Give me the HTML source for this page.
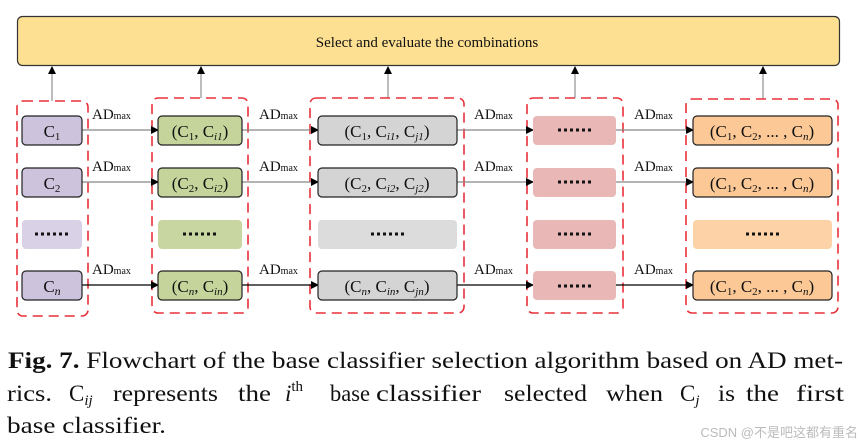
<!DOCTYPE html>
<html><head><meta charset="utf-8"><style>
html,body{margin:0;padding:0;background:#fff;}
svg{display:block;}
.t{font-family:"Liberation Serif",serif;fill:#111;}
</style></head><body>
<svg width="864" height="447" viewBox="0 0 864 447" xmlns="http://www.w3.org/2000/svg">
<defs>
<marker id="ah" markerWidth="8" markerHeight="8" refX="7" refY="4" orient="auto" markerUnits="userSpaceOnUse">
<path d="M0,0 L8,4 L0,8 z" fill="#000"/></marker>
<g id="dots" fill="#111">
<rect x="0" y="-1.5" width="3" height="3"/><rect x="6" y="-1.5" width="3" height="3"/><rect x="12" y="-1.5" width="3" height="3"/>
<rect x="18" y="-1.5" width="3" height="3"/><rect x="24" y="-1.5" width="3" height="3"/><rect x="30" y="-1.5" width="3" height="3"/>
</g>
</defs>
<rect x="17.5" y="16.5" width="822" height="49" rx="5" fill="#fde092" stroke="#333" stroke-width="1.2"/>
<text class="t" x="427" y="47" font-size="15" text-anchor="middle">Select and evaluate the combinations</text>
<g stroke="#999" stroke-width="1.3" marker-end="url(#ah)">
<line x1="52" y1="101" x2="52" y2="67"/>
<line x1="201" y1="98" x2="201" y2="67"/>
<line x1="388" y1="98" x2="388" y2="67"/>
<line x1="575" y1="98" x2="575" y2="67"/>
<line x1="763" y1="99" x2="763" y2="67"/>
</g>
<g fill="none" stroke="#e8303a" stroke-width="1.6" stroke-dasharray="10,6">
<rect x="17" y="101" width="71" height="215" rx="6"/>
<rect x="152" y="98" width="96" height="215" rx="6"/>
<rect x="310" y="98" width="154" height="215" rx="6"/>
<rect x="527" y="98" width="96" height="215" rx="6"/>
<rect x="686" y="99" width="152" height="214" rx="6"/>
</g>
<g stroke-width="1.2" marker-end="url(#ah)">
<line x1="82" y1="130" x2="158" y2="130" stroke="#888"/>
<line x1="82" y1="182" x2="158" y2="182" stroke="#888"/>
<line x1="82" y1="285" x2="158" y2="285" stroke="#000"/>
<line x1="242" y1="130" x2="318" y2="130" stroke="#888"/>
<line x1="242" y1="182" x2="318" y2="182" stroke="#888"/>
<line x1="242" y1="285" x2="318" y2="285" stroke="#000"/>
<line x1="457" y1="130" x2="533" y2="130" stroke="#888"/>
<line x1="457" y1="182" x2="533" y2="182" stroke="#888"/>
<line x1="457" y1="285" x2="533" y2="285" stroke="#000"/>
<line x1="616" y1="130" x2="693" y2="130" stroke="#888"/>
<line x1="616" y1="182" x2="693" y2="182" stroke="#888"/>
<line x1="616" y1="285" x2="693" y2="285" stroke="#000"/>
</g>
<g>
<text class="t" font-size="15" x="92" y="119">AD<tspan font-size="10">max</tspan></text>
<text class="t" font-size="15" x="92" y="171">AD<tspan font-size="10">max</tspan></text>
<text class="t" font-size="15" x="92" y="274">AD<tspan font-size="10">max</tspan></text>
<text class="t" font-size="15" x="259" y="119">AD<tspan font-size="10">max</tspan></text>
<text class="t" font-size="15" x="259" y="171">AD<tspan font-size="10">max</tspan></text>
<text class="t" font-size="15" x="259" y="274">AD<tspan font-size="10">max</tspan></text>
<text class="t" font-size="15" x="474" y="119">AD<tspan font-size="10">max</tspan></text>
<text class="t" font-size="15" x="474" y="171">AD<tspan font-size="10">max</tspan></text>
<text class="t" font-size="15" x="474" y="274">AD<tspan font-size="10">max</tspan></text>
<text class="t" font-size="15" x="634" y="119">AD<tspan font-size="10">max</tspan></text>
<text class="t" font-size="15" x="634" y="171">AD<tspan font-size="10">max</tspan></text>
<text class="t" font-size="15" x="634" y="274">AD<tspan font-size="10">max</tspan></text>
</g>
<g stroke="#222" stroke-width="1.2">
<rect x="22" y="116" width="60" height="29" rx="4" fill="#cdc3dc"/>
<rect x="22" y="168" width="60" height="29" rx="4" fill="#cdc3dc"/>
<rect x="22" y="271" width="60" height="29" rx="4" fill="#cdc3dc"/>
<rect x="158" y="116" width="84" height="29" rx="4" fill="#c4d49a"/>
<rect x="158" y="168" width="84" height="29" rx="4" fill="#c4d49a"/>
<rect x="158" y="271" width="84" height="29" rx="4" fill="#c4d49a"/>
<rect x="318" y="116" width="139" height="29" rx="4" fill="#d4d4d4"/>
<rect x="318" y="168" width="139" height="29" rx="4" fill="#d4d4d4"/>
<rect x="318" y="271" width="139" height="29" rx="4" fill="#d4d4d4"/>
<rect x="693" y="116" width="139" height="29" rx="4" fill="#fcc896"/>
<rect x="693" y="168" width="139" height="29" rx="4" fill="#fcc896"/>
<rect x="693" y="271" width="139" height="29" rx="4" fill="#fcc896"/>
</g>
<g>
<rect x="22" y="220" width="60" height="29" rx="4" fill="#d9d1e5"/>
<rect x="158" y="220" width="84" height="29" rx="4" fill="#c8d6a2"/>
<rect x="318" y="220" width="139" height="29" rx="4" fill="#dcdcdc"/>
<rect x="533" y="116" width="83" height="29" rx="4" fill="#e9b8b6"/>
<rect x="533" y="168" width="83" height="29" rx="4" fill="#e9b8b6"/>
<rect x="533" y="220" width="83" height="29" rx="4" fill="#e9b8b6"/>
<rect x="533" y="271" width="83" height="29" rx="4" fill="#e9b8b6"/>
<rect x="693" y="220" width="139" height="29" rx="4" fill="#fdd2a6"/>
</g>
<g text-anchor="middle">
<text class="t" font-size="17" x="52" y="137">C<tspan font-size="11" dy="3">1</tspan></text>
<text class="t" font-size="17" x="52" y="189">C<tspan font-size="11" dy="3">2</tspan></text>
<text class="t" font-size="17" x="52" y="292">C<tspan font-size="12" dy="3" font-style="italic">n</tspan></text>
<text class="t" font-size="17" x="200" y="137">(C<tspan font-size="11" dy="3">1</tspan><tspan dy="-3">, C</tspan><tspan font-size="11" dy="3" font-style="italic">i1</tspan><tspan dy="-3">)</tspan></text>
<text class="t" font-size="17" x="200" y="189">(C<tspan font-size="11" dy="3">2</tspan><tspan dy="-3">, C</tspan><tspan font-size="11" dy="3" font-style="italic">i2</tspan><tspan dy="-3">)</tspan></text>
<text class="t" font-size="17" x="200" y="292">(C<tspan font-size="11" dy="3" font-style="italic">n</tspan><tspan dy="-3">, C</tspan><tspan font-size="11" dy="3" font-style="italic">in</tspan><tspan dy="-3">)</tspan></text>
<text class="t" font-size="17" x="387" y="137">(C<tspan font-size="11" dy="3">1</tspan><tspan dy="-3">, C</tspan><tspan font-size="11" dy="3" font-style="italic">i1</tspan><tspan dy="-3">, C</tspan><tspan font-size="11" dy="3" font-style="italic">j1</tspan><tspan dy="-3">)</tspan></text>
<text class="t" font-size="17" x="387" y="189">(C<tspan font-size="11" dy="3">2</tspan><tspan dy="-3">, C</tspan><tspan font-size="11" dy="3" font-style="italic">i2</tspan><tspan dy="-3">, C</tspan><tspan font-size="11" dy="3" font-style="italic">j2</tspan><tspan dy="-3">)</tspan></text>
<text class="t" font-size="17" x="387" y="292">(C<tspan font-size="11" dy="3" font-style="italic">n</tspan><tspan dy="-3">, C</tspan><tspan font-size="11" dy="3" font-style="italic">in</tspan><tspan dy="-3">, C</tspan><tspan font-size="11" dy="3" font-style="italic">jn</tspan><tspan dy="-3">)</tspan></text>
<text class="t" font-size="17" x="762" y="137">(C<tspan font-size="11" dy="3">1</tspan><tspan dy="-3">, C</tspan><tspan font-size="11" dy="3">2</tspan><tspan dy="-3">, ... , C</tspan><tspan font-size="11" dy="3" font-style="italic">n</tspan><tspan dy="-3">)</tspan></text>
<text class="t" font-size="17" x="762" y="189">(C<tspan font-size="11" dy="3">1</tspan><tspan dy="-3">, C</tspan><tspan font-size="11" dy="3">2</tspan><tspan dy="-3">, ... , C</tspan><tspan font-size="11" dy="3" font-style="italic">n</tspan><tspan dy="-3">)</tspan></text>
<text class="t" font-size="17" x="762" y="292">(C<tspan font-size="11" dy="3">1</tspan><tspan dy="-3">, C</tspan><tspan font-size="11" dy="3">2</tspan><tspan dy="-3">, ... , C</tspan><tspan font-size="11" dy="3" font-style="italic">n</tspan><tspan dy="-3">)</tspan></text>
</g>
<use href="#dots" x="35" y="234"/>
<use href="#dots" x="183" y="234"/>
<use href="#dots" x="371" y="234"/>
<use href="#dots" x="558" y="130"/>
<use href="#dots" x="558" y="182"/>
<use href="#dots" x="558" y="234"/>
<use href="#dots" x="558" y="286"/>
<use href="#dots" x="746" y="234"/>
<g>
<text class="t" font-size="23" x="8" y="368" textLength="835" lengthAdjust="spacingAndGlyphs"><tspan font-weight="bold">Fig. 7.</tspan> Flowchart of the base classifier selection algorithm based on AD met-</text>
<text class="t" font-size="23" x="7" y="401" textLength="45" lengthAdjust="spacingAndGlyphs">rics.</text>
<text class="t" font-size="23" x="69" y="401">C<tspan font-size="15" dy="4" font-style="italic">ij</tspan></text>
<text class="t" font-size="23" x="113" y="401" textLength="105" lengthAdjust="spacingAndGlyphs">represents</text>
<text class="t" font-size="23" x="238" y="401" textLength="33" lengthAdjust="spacingAndGlyphs">the</text>
<text class="t" font-size="23" x="285" y="401" font-style="italic">i<tspan font-size="15" dy="-10" font-style="normal">th</tspan></text>
<text class="t" font-size="23" x="330" y="401" textLength="40" lengthAdjust="spacingAndGlyphs">base</text>
<text class="t" font-size="23" x="376" y="401" textLength="105" lengthAdjust="spacingAndGlyphs">classifier</text>
<text class="t" font-size="23" x="504" y="401" textLength="83" lengthAdjust="spacingAndGlyphs">selected</text>
<text class="t" font-size="23" x="606" y="401" textLength="57" lengthAdjust="spacingAndGlyphs">when</text>
<text class="t" font-size="23" x="680" y="401">C<tspan font-size="15" dy="4" font-style="italic">j</tspan></text>
<text class="t" font-size="23" x="718" y="401" textLength="17" lengthAdjust="spacingAndGlyphs">is</text>
<text class="t" font-size="23" x="746" y="401" textLength="33" lengthAdjust="spacingAndGlyphs">the</text>
<text class="t" font-size="23" x="796" y="401" textLength="48" lengthAdjust="spacingAndGlyphs">first</text>
<text class="t" font-size="23" x="7" y="433" textLength="159" lengthAdjust="spacingAndGlyphs">base classifier.</text>
</g>
<text x="858" y="437" font-size="13" fill="#bbb" text-anchor="end" font-family="'Liberation Sans','Noto Sans CJK SC',sans-serif">CSDN @不是吧这都有重名</text>
</svg>
</body></html>
